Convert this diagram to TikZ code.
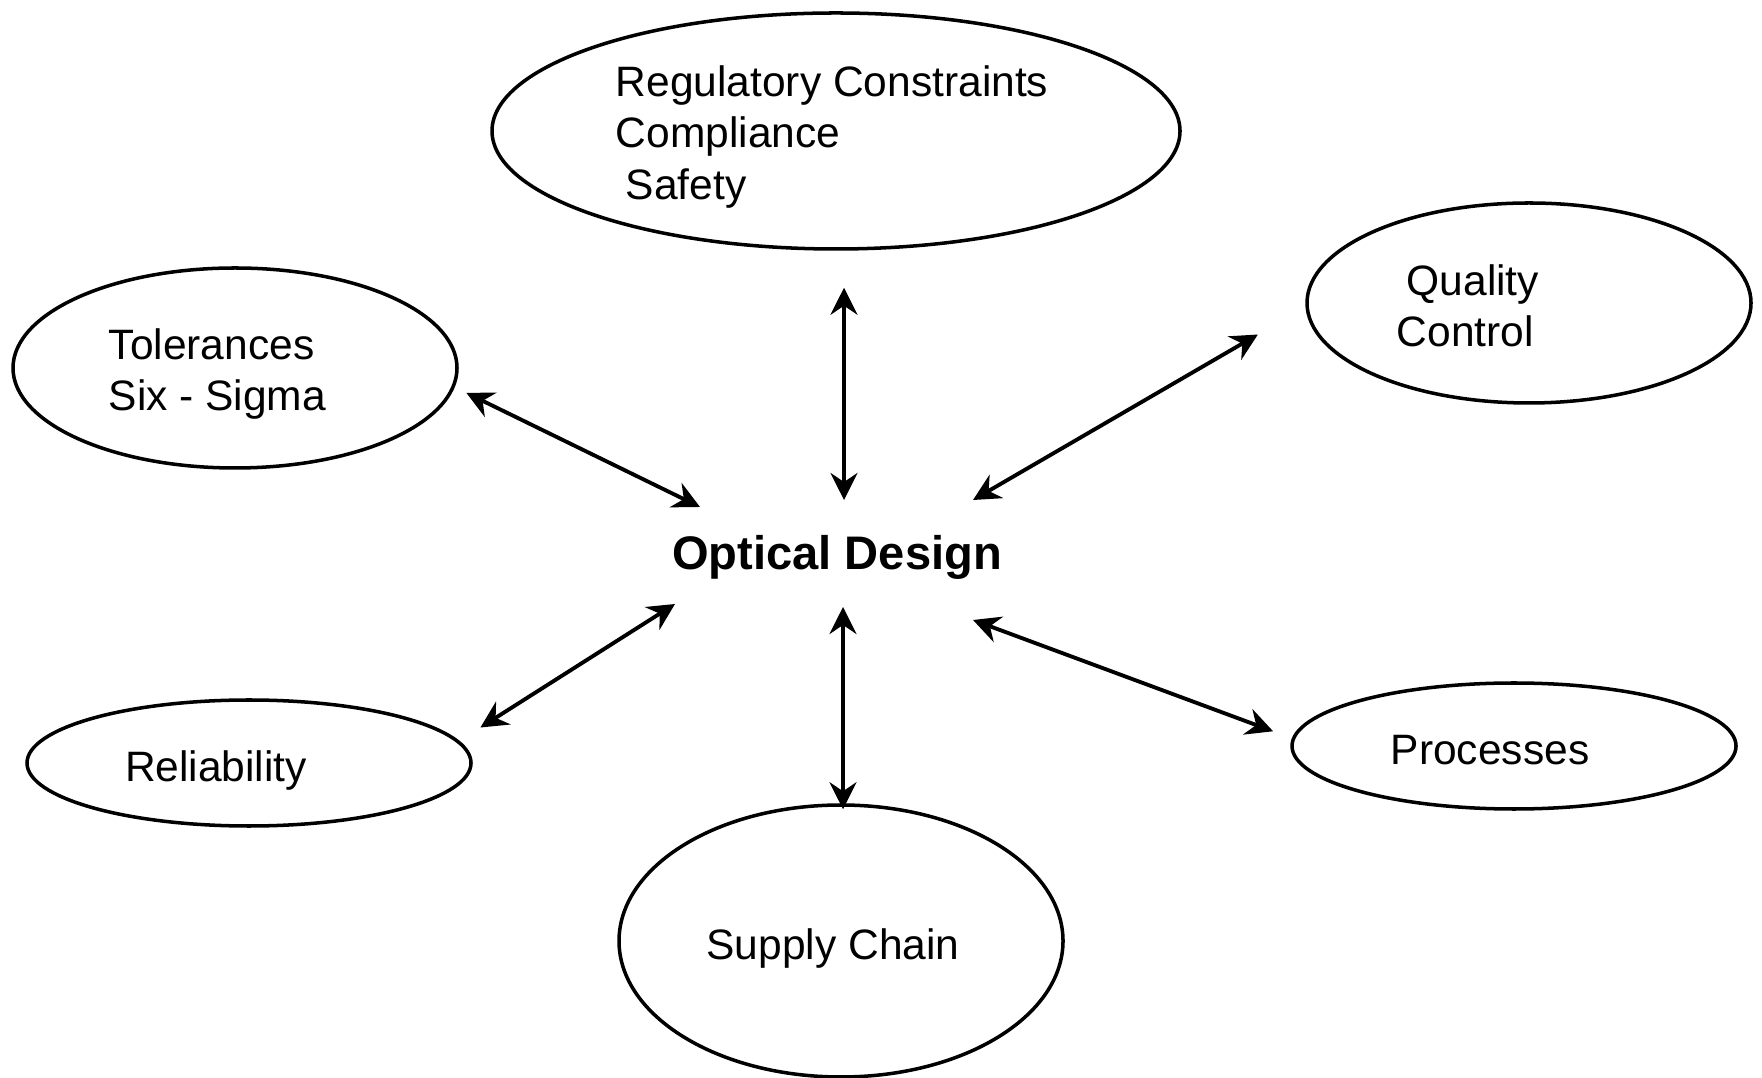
\documentclass[tikz,border=0pt]{standalone}
\usepackage{fontspec}
\setmainfont{Liberation Sans}
\usetikzlibrary{arrows.meta,calc,positioning,shapes.geometric}

\begin{document}
\begin{tikzpicture}[
topicnode/.style={ellipse, draw=black, line width=1pt, inner sep=0pt},
topictext/.style={font=\fontsize{12.1}{14.6}\selectfont, align=left, inner sep=0pt},
centertext/.style={font=\fontsize{13.4}{16}\selectfont\bfseries, inner sep=0pt},
linkarrow/.style={{Stealth[length=2.7mm,width=2.7mm,inset=0.9mm]}-{Stealth[length=2.7mm,width=2.7mm,inset=0.9mm]}, line width=1.1pt},
]
\useasboundingbox (0,0) rectangle (17.62,10.77);

%Ellipses
\node[topicnode, minimum width=6.88cm, minimum height=2.36cm] (regulatory) at (8.36,9.46) {};
\node[topicnode, minimum width=4.44cm, minimum height=2.00cm] (quality) at (15.29,7.74) {};
\node[topicnode, minimum width=4.44cm, minimum height=2.00cm] (tolerances) at (2.35,7.09) {};
\node[topicnode, minimum width=4.44cm, minimum height=1.26cm] (reliability) at (2.49,3.14) {};
\node[topicnode, minimum width=4.44cm, minimum height=1.26cm] (processes) at (15.14,3.31) {};
\node[topicnode, minimum width=4.44cm, minimum height=2.72cm] (supply) at (8.41,1.36) {};

%Texts
\node[topictext, anchor=west] (regulatorytext) at (6.15,9.40) {Regulatory Constraints\\Compliance\\\hspace*{0.1cm}Safety};
\node[topictext, anchor=west] (qualitytext) at (13.96,7.71) {\hspace*{0.1cm}Quality\\Control};
\node[topictext, anchor=west] (tolerancestext) at (1.08,7.03) {Tolerances\\Six - Sigma};
\node[topictext] (reliabilitytext) at (2.16,3.065) {Reliability};
\node[topictext] (processestext) at (14.90,3.27) {Processes};
\node[topictext] (supplytext) at (8.33,1.285) {Supply Chain};
\node[centertext] (core) at (8.37,5.195) {Optical Design};

%Hub points
\coordinate (hubN) at ($(core)+(0.07,0.575)$);
\coordinate (hubNW) at ($(core)+(-1.37,0.505)$);
\coordinate (hubNE) at ($(core)+(1.36,0.575)$);
\coordinate (hubSW) at ($(core)+(-1.62,-0.465)$);
\coordinate (hubS) at ($(core)+(0.06,-0.495)$);
\coordinate (hubSE) at ($(core)+(1.36,-0.625)$);

%Links
\draw[linkarrow, shorten <=0.37cm] (regulatory.south -| hubN) -- (hubN);
\draw[linkarrow, shorten <=0.13cm] (tolerances.-5.5) -- (hubNW);
\draw[linkarrow, shorten <=0.55cm] (quality.181) -- (hubNE);
\draw[linkarrow, shorten <=0.25cm] (reliability.6) -- (hubSW);
\draw[linkarrow, shorten <=-0.06cm] (supply.north -| hubS) -- (hubS);
\draw[linkarrow, shorten <=0.20cm] (processes.178) -- (hubSE);
\end{tikzpicture}
\end{document}
